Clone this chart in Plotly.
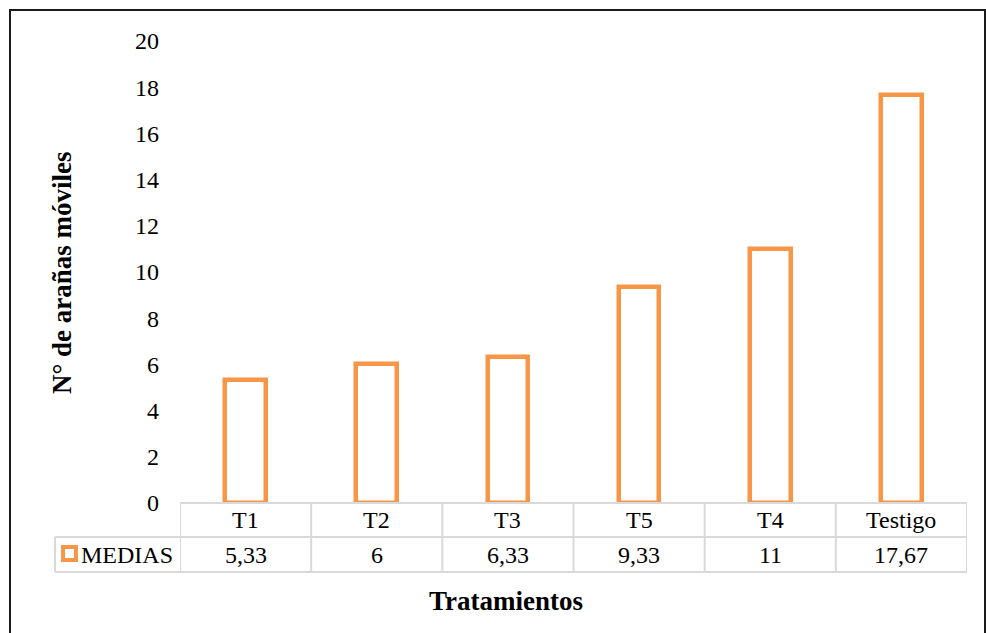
import plotly.graph_objects as go

# Mean number of mobile mites per treatment
tratamientos = ["T1", "T2", "T3", "T5", "T4", "Testigo"]
medias = [5.33, 6, 6.33, 9.33, 11, 17.67]
etiquetas = ["5,33", "6", "6,33", "9,33", "11", "17,67"]
y_ticks = [0, 2, 4, 6, 8, 10, 12, 14, 16, 18, 20]

ORANGE = "#F79646"
GRID = "#D9D9D9"
FONT = "Liberation Serif"

W, H = 986, 633
L, R, T, B = 180, 19, 41, 130
pw, ph = W - L - R, H - T - B

def px_x(px):
    return (px - L) / pw

def px_y(py):
    return (H - B - py) / ph

idx = list(range(len(tratamientos)))

fig = go.Figure()
fig.add_trace(go.Bar(
    x=idx, y=medias, width=0.31,
    marker=dict(color="white", line=dict(color=ORANGE, width=4.5)),
    showlegend=False, hoverinfo="skip",
))

row1_bot = px_y(537)
row2_bot = px_y(572)
left_col = px_x(55)

shapes = []
# data table grid
shapes.append(dict(type="line", xref="x", yref="paper", x0=-0.5, x1=len(idx) - 0.5,
                   y0=0, y1=0, line=dict(color=GRID, width=2)))
shapes.append(dict(type="line", xref="paper", yref="paper", x0=left_col, x1=px_x(967),
                   y0=row1_bot, y1=row1_bot, line=dict(color=GRID, width=2)))
shapes.append(dict(type="line", xref="paper", yref="paper", x0=left_col, x1=px_x(967),
                   y0=row2_bot, y1=row2_bot, line=dict(color=GRID, width=2)))
shapes.append(dict(type="line", xref="paper", yref="paper", x0=left_col, x1=left_col,
                   y0=row1_bot, y1=row2_bot, line=dict(color=GRID, width=2)))
for k in range(len(idx) + 1):
    shapes.append(dict(type="line", xref="x", yref="paper", x0=k - 0.5, x1=k - 0.5,
                       y0=0, y1=row2_bot, line=dict(color=GRID, width=2)))
# legend key
shapes.append(dict(type="rect", xref="paper", yref="paper",
                   x0=px_x(63), x1=px_x(76), y0=px_y(547), y1=px_y(560),
                   line=dict(color=ORANGE, width=4), fillcolor="white"))
# outer chart border
shapes.append(dict(type="rect", xref="paper", yref="paper",
                   x0=px_x(10), x1=px_x(985), y0=px_y(10), y1=px_y(700),
                   line=dict(color="#1a1a1a", width=2), fillcolor="rgba(0,0,0,0)"))

annotations = []
for i, (cat, lab) in enumerate(zip(tratamientos, etiquetas)):
    annotations.append(dict(x=i, y=(0 + row1_bot) / 2, xref="x", yref="paper",
                            text=cat, showarrow=False, yanchor="middle",
                            font=dict(family=FONT, size=24, color="#000")))
    annotations.append(dict(x=i, y=(row1_bot + row2_bot) / 2, xref="x", yref="paper",
                            text=lab, showarrow=False, yanchor="middle",
                            font=dict(family=FONT, size=24, color="#000")))
annotations.append(dict(x=px_x(79), y=(row1_bot + row2_bot) / 2, xref="paper", yref="paper",
                        text="MEDIAS", showarrow=False, xanchor="left", yanchor="middle",
                        font=dict(family=FONT, size=24, color="#000")))
annotations.append(dict(x=px_x(506), y=px_y(601), xref="paper", yref="paper",
                        text="<b>Tratamientos</b>", showarrow=False,
                        xanchor="center", yanchor="middle",
                        font=dict(family=FONT, size=27, color="#000")))
annotations.append(dict(x=px_x(62), y=px_y(272), xref="paper", yref="paper",
                        text="<b>N° de arañas móviles</b>", showarrow=False, textangle=-90,
                        xanchor="center", yanchor="middle",
                        font=dict(family=FONT, size=27, color="#000")))

fig.update_layout(
    width=W, height=H,
    margin=dict(l=L, r=R, t=T, b=B),
    paper_bgcolor="white", plot_bgcolor="white",
    font=dict(family=FONT, color="#000"),
    xaxis=dict(range=[-0.5, len(idx) - 0.5], showticklabels=False, showgrid=False,
               zeroline=False, showline=False, ticks=""),
    yaxis=dict(range=[0, 20], tickvals=y_ticks, showgrid=False, zeroline=False,
               showline=False, ticks="", ticklabelstandoff=20,
               tickfont=dict(family=FONT, size=24, color="#000")),
    shapes=shapes,
    annotations=annotations,
    bargap=0,
)

fig.write_html("out.html")
